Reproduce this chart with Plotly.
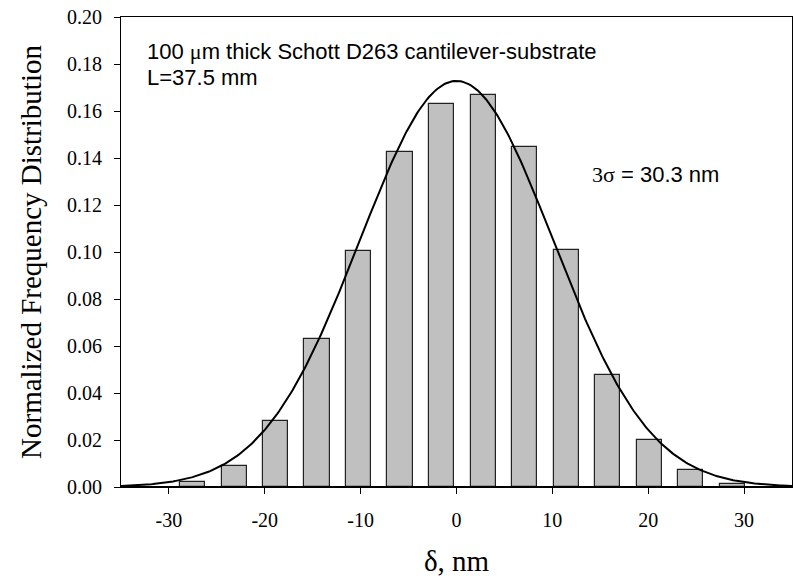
import numpy as np
import plotly.graph_objects as go

# Histogram bins (nm) and normalized frequencies
bin_centers = [-27.5, -23.2, -18.85, -14.55, -10.2, -5.9, -1.55, 2.8, 7.1, 11.45, 15.75, 20.1, 24.4, 28.75]
frequencies = [0.0020, 0.0089, 0.0283, 0.0631, 0.1005, 0.1427, 0.1631, 0.1670, 0.1447, 0.1008, 0.0477, 0.0198, 0.0072, 0.0013]
bar_width = 2.62

# Gaussian fit parameters (3 sigma = 30.3 nm)
fit_mean = 0.0
fit_sigma = 10.1
fit_amplitude = 0.1728

x_ticks = [-30, -20, -10, 0, 10, 20, 30]
y_ticks = [0.00, 0.02, 0.04, 0.06, 0.08, 0.10, 0.12, 0.14, 0.16, 0.18, 0.20]

fit_x = np.linspace(-35, 35, 400)
fit_y = fit_amplitude * np.exp(-0.5 * ((fit_x - fit_mean) / fit_sigma) ** 2)

serif = "Liberation Serif, Times New Roman, serif"
sans = "Liberation Sans, Arial, sans-serif"

fig = go.Figure()
fig.add_trace(go.Bar(
    x=bin_centers, y=frequencies, width=bar_width,
    marker=dict(color="#c0c0c0", line=dict(color="#222222", width=1.2)),
    showlegend=False,
))
fig.add_trace(go.Scatter(
    x=fit_x, y=fit_y, mode="lines",
    line=dict(color="black", width=2), showlegend=False,
))

fig.update_layout(
    width=794, height=582,
    margin=dict(l=121, r=2, t=17, b=95),
    plot_bgcolor="white", paper_bgcolor="white",
    font=dict(family=serif, color="black"),
    xaxis=dict(
        range=[-35, 35], tickvals=x_ticks, ticktext=[str(v) for v in x_ticks],
        showgrid=False, zeroline=False,
        showline=True, linecolor="black", linewidth=1, mirror=True,
        ticks="outside", ticklen=6, tickcolor="black",
        tickfont=dict(family=serif, size=20),
        ticklabelstandoff=9,
        title=dict(text="δ, nm", font=dict(family=serif, size=29), standoff=20),
    ),
    yaxis=dict(
        range=[0, 0.2], tickvals=y_ticks, ticktext=[f"{v:.2f}" for v in y_ticks],
        showgrid=False, zeroline=False,
        showline=True, linecolor="black", linewidth=1, mirror=True,
        ticks="outside", ticklen=6, tickcolor="black",
        tickfont=dict(family=serif, size=20),
        ticklabelstandoff=8,
        title=dict(text="Normalized Frequency Distribution", font=dict(family=serif, size=29), standoff=16),
    ),
    bargap=0,
)

fig.add_shape(type="line", xref="paper", yref="y", x0=0, x1=1, y0=0, y1=0,
              line=dict(color="black", width=2))

fig.add_annotation(
    xref="paper", yref="paper", x=0.036, y=0.927, xanchor="left", yanchor="middle",
    text="100 <span style='font-family:Liberation Serif'>μ</span>m thick Schott D263 cantilever-substrate",
    showarrow=False, font=dict(family=sans, size=22), align="left",
)
fig.add_annotation(
    xref="paper", yref="paper", x=0.036, y=0.872, xanchor="left", yanchor="middle",
    text="L=37.5 mm", showarrow=False, font=dict(family=sans, size=22), align="left",
)
fig.add_annotation(
    xref="paper", yref="paper", x=0.699, y=0.664, xanchor="left", yanchor="middle",
    text="<span style='font-family:Liberation Serif'>3σ</span> = 30.3 nm",
    showarrow=False, font=dict(family=sans, size=22), align="left",
)

fig.write_html("out.html")
